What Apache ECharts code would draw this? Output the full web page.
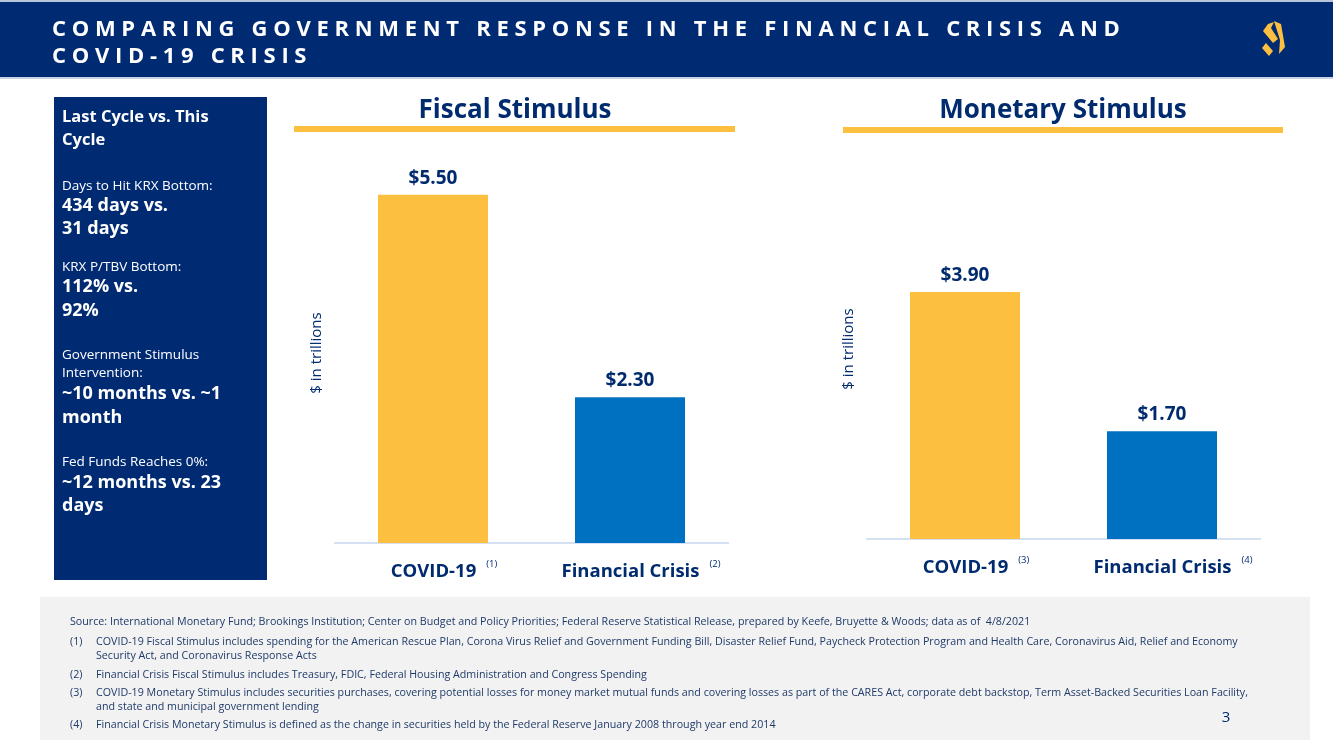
<!DOCTYPE html>
<html>
<head>
<meta charset="utf-8">
<script src="https://cdn.jsdelivr.net/npm/echarts@6/dist/echarts.min.js"></script>
<style>
  html, body { margin: 0; padding: 0; background: #ffffff; }
  #wrap { position: relative; width: 1333px; height: 750px; overflow: hidden; }
  #chart { position: absolute; left: 0; top: 0; width: 1333px; height: 750px; }
  #title { position: absolute; left: 52px; top: 14px; width: 1200px; color: #ffffff;
    font-family: "Open Sans", "Noto Sans", sans-serif; font-weight: 700; font-size: 22px;
    line-height: 27px; letter-spacing: 5.7px; pointer-events: none; white-space: nowrap; }
</style>
</head>
<body>
<div id="wrap">
  <div id="chart"></div>
  <div id="title">COMPARING GOVERNMENT RESPONSE IN THE FINANCIAL CRISIS AND<br>COVID-19 CRISIS</div>
</div>
<script>
// ---- data ----
const categories = ['COVID-19', 'Financial Crisis'];
const fiscalValues = [5.50, 2.30];
const monetaryValues = [3.90, 1.70];
const fiscalNotes = ['(1)', '(2)'];
const monetaryNotes = ['(3)', '(4)'];
const panelTitles = ['Fiscal Stimulus', 'Monetary Stimulus'];
const yAxisName = '$ in trillions';
const sidebarLines = [
  ['Last Cycle vs. This', 'head'], ['Cycle', 'head'],
  ['Days to Hit KRX Bottom:', 'lab'], ['434 days vs.', 'val'], ['31 days', 'val'],
  ['KRX P/TBV Bottom:', 'lab'], ['112% vs.', 'val'], ['92%', 'val'],
  ['Government Stimulus', 'lab'], ['Intervention:', 'lab'], ['~10 months vs. ~1', 'val'], ['month', 'val'],
  ['Fed Funds Reaches 0%:', 'lab'], ['~12 months vs. 23', 'val'], ['days', 'val']
];
const sidebarY = [117, 140, 186, 206, 229, 267, 287, 311, 355, 373, 394, 418, 462, 483, 506];
const footSource = 'Source: International Monetary Fund; Brookings Institution; Center on Budget and Policy Priorities; Federal Reserve Statistical Release, prepared by Keefe, Bruyette & Woods; data as of  4/8/2021';
const footNotes = [
  ['(1)', 'COVID-19 Fiscal Stimulus includes spending for the American Rescue Plan, Corona Virus Relief and Government Funding Bill, Disaster Relief Fund, Paycheck Protection Program and Health Care, Coronavirus Aid, Relief and Economy'],
  ['', 'Security Act, and Coronavirus Response Acts'],
  ['(2)', 'Financial Crisis Fiscal Stimulus includes Treasury, FDIC, Federal Housing Administration and Congress Spending'],
  ['(3)', 'COVID-19 Monetary Stimulus includes securities purchases, covering potential losses for money market mutual funds and covering losses as part of the CARES Act, corporate debt backstop, Term Asset-Backed Securities Loan Facility,'],
  ['', 'and state and municipal government lending'],
  ['(4)', 'Financial Crisis Monetary Stimulus is defined as the change in securities held by the Federal Reserve January 2008 through year end 2014']
];
const footY = [642, 656, 675, 693, 707, 725];
const pageNumber = '3';

// ---- styles ----
const NAVY = '#002b6f';
const YELLOW = '#fdbf3f';
const BLUE = '#0070c0';
const FONT = '"Open Sans", "Noto Sans", sans-serif';
const barColors = [YELLOW, BLUE];

const chart = echarts.init(document.getElementById('chart'), null, { renderer: 'canvas' });

function xAxisFor(gridIndex, notes) {
  return {
    type: 'category', gridIndex: gridIndex, data: categories,
    axisLine: { show: true, lineStyle: { color: '#c8d8ee', width: 1.5 } },
    axisTick: { show: false },
    axisLabel: {
      margin: 16, interval: 0,
      padding: [0, 0, 0, 22],
      formatter: function (v, i) { return '{a|' + v + '}{s| }{b|' + notes[i] + '}'; },
      rich: {
        a: { fontFamily: FONT, fontSize: 18.5, fontWeight: 'bold', color: NAVY, lineHeight: 26 },
        s: { fontFamily: FONT, fontSize: 10, width: 10 },
        b: { fontFamily: FONT, fontSize: 9.5, color: NAVY, verticalAlign: 'top', lineHeight: 16 }
      }
    }
  };
}
function yAxisFor(gridIndex) {
  return {
    type: 'value', gridIndex: gridIndex, min: 0, max: 6,
    axisLine: { show: false }, axisTick: { show: false }, axisLabel: { show: false },
    splitLine: { show: false },
    name: yAxisName, nameLocation: 'middle', nameGap: 10,
    nameTextStyle: { fontFamily: FONT, fontSize: 15, color: NAVY }
  };
}
function seriesFor(idx, values) {
  return {
    type: 'bar', xAxisIndex: idx, yAxisIndex: idx, barWidth: 110,
    data: values.map(function (v, i) { return { value: v, itemStyle: { color: barColors[i] } }; }),
    label: {
      show: true, position: 'top', distance: 7,
      fontFamily: FONT, fontSize: 19, fontWeight: 'bold', color: NAVY,
      formatter: function (p) { return '$' + p.value.toFixed(2); }
    },
    silent: true
  };
}

const graphics = [];
// header band
graphics.push({ type: 'rect', shape: { x: 0, y: 0, width: 1333, height: 2 }, style: { fill: '#b8c6dc' }, silent: true });
graphics.push({ type: 'rect', shape: { x: 0, y: 2, width: 1333, height: 75 }, style: { fill: '#002b72' }, silent: true });
graphics.push({ type: 'rect', shape: { x: 0, y: 77, width: 1333, height: 2 }, style: { fill: '#c9d3e3' }, silent: true });
// logo
graphics.push({ type: 'polygon', shape: { points: [[1268, 24], [1274, 22], [1271, 28], [1278, 39], [1273, 43], [1263, 31]] }, style: { fill: YELLOW }, silent: true });
graphics.push({ type: 'polygon', shape: { points: [[1274, 21], [1281, 24], [1285, 47], [1279, 54], [1280, 40]] }, style: { fill: YELLOW }, silent: true });
graphics.push({ type: 'polygon', shape: { points: [[1262, 48], [1266, 43], [1273, 51], [1269, 56]] }, style: { fill: YELLOW }, silent: true });
// sidebar
graphics.push({ type: 'rect', shape: { x: 54, y: 97, width: 213, height: 483 }, style: { fill: '#002b72' }, silent: true });
sidebarLines.forEach(function (ln, i) {
  const kind = ln[1];
  graphics.push({
    type: 'text', x: 62, y: sidebarY[i], silent: true,
    style: {
      text: ln[0], fill: '#ffffff', fontFamily: FONT,
      fontSize: kind === 'lab' ? 13.5 : (kind === 'head' ? 16.5 : 18),
      fontWeight: kind === 'lab' ? 'normal' : 'bold',
      textAlign: 'left', textVerticalAlign: 'middle'
    }
  });
});
// panel titles and underlines
[[515, 294, 735], [1063, 843, 1283]].forEach(function (p, i) {
  graphics.push({ type: 'text', x: p[0], y: 111, silent: true,
    style: { text: panelTitles[i], fill: NAVY, fontFamily: FONT, fontSize: 26, fontWeight: 'bold', textAlign: 'center', textVerticalAlign: 'middle' } });
  graphics.push({ type: 'rect', shape: { x: p[1], y: 126 + i, width: p[2] - p[1], height: 6 }, style: { fill: YELLOW }, silent: true });
});
// footnote box
graphics.push({ type: 'rect', shape: { x: 40, y: 597, width: 1270, height: 143 }, style: { fill: '#f2f2f2' }, silent: true });
const FS = 10.7;
const FCOL = '#1f3a68';
graphics.push({ type: 'text', x: 70, y: 622, silent: true,
  style: { text: footSource, fill: FCOL, fontFamily: FONT, fontSize: FS, textVerticalAlign: 'middle' } });
footNotes.forEach(function (fn, i) {
  if (fn[0]) graphics.push({ type: 'text', x: 70, y: footY[i], silent: true,
    style: { text: fn[0], fill: FCOL, fontFamily: FONT, fontSize: FS, textVerticalAlign: 'middle' } });
  graphics.push({ type: 'text', x: 96, y: footY[i], silent: true,
    style: { text: fn[1], fill: FCOL, fontFamily: FONT, fontSize: FS, textVerticalAlign: 'middle' } });
});
graphics.push({ type: 'text', x: 1226, y: 718, silent: true,
  style: { text: pageNumber, fill: NAVY, fontFamily: FONT, fontSize: 15, textAlign: 'center', textVerticalAlign: 'middle' } });

chart.setOption({
  animation: false,
  backgroundColor: '#ffffff',
  grid: [
    { left: 334.5, top: 163, width: 394, height: 380 },
    { left: 866.5, top: 159, width: 394, height: 380 }
  ],
  xAxis: [xAxisFor(0, fiscalNotes), xAxisFor(1, monetaryNotes)],
  yAxis: [yAxisFor(0), yAxisFor(1)],
  series: [seriesFor(0, fiscalValues), seriesFor(1, monetaryValues)],
  graphic: { elements: graphics }
});
</script>
</body>
</html>
